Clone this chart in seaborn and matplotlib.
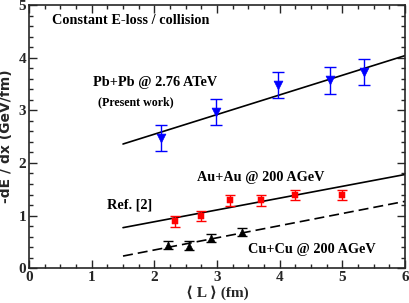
import numpy as np
import pandas as pd
import matplotlib
matplotlib.use("Agg")
import matplotlib.pyplot as plt
import seaborn as sns

# Pb+Pb @ 2.76 ATeV (present work)
pb_L = [2.1, 2.98, 3.98, 4.81, 5.34]
pb_dedx = [2.47, 2.97, 3.48, 3.57, 3.73]
pb_err = [0.25, 0.25, 0.25, 0.25, 0.25]

# Au+Au @ 200 AGeV
au_L = [2.33, 2.75, 3.2, 3.7, 4.24, 4.99]
au_dedx = [0.89, 0.99, 1.29, 1.29, 1.39, 1.39]
au_err = [0.1, 0.1, 0.1, 0.1, 0.1, 0.1]

# Cu+Cu @ 200 AGeV
cu_L = [2.22, 2.55, 2.9, 3.4]
cu_dedx = [0.44, 0.43, 0.57, 0.69]
cu_err = [0.08, 0.08, 0.08, 0.08]

# constant E-loss / collision fits
fit_L = [1.5, 6.0]
pb_fit = [2.36, 4.04]
au_fit = [0.77, 1.78]
cu_fit = [0.23, 1.27]

sns.set_style("ticks")
plt.rcParams['font.family'] = ['Liberation Serif', 'DejaVu Serif']

fig = plt.figure(figsize=(4.09, 3.03), dpi=100)
ax = fig.add_axes([0.071, 0.115, 0.919, 0.868])

fits = pd.DataFrame({"L": fit_L * 3,
                     "dedx": pb_fit + au_fit + cu_fit,
                     "set": ["pb"] * 2 + ["au"] * 2 + ["cu"] * 2})
sns.lineplot(data=fits, x="L", y="dedx", style="set", color="black", lw=1.2,
             dashes={"pb": "", "au": "", "cu": (6, 3)}, legend=False, ax=ax)

ax.errorbar(pb_L, pb_dedx, yerr=pb_err, fmt="none", ecolor="blue", elinewidth=1, capsize=4, capthick=1)
ax.errorbar(au_L, au_dedx, yerr=au_err, fmt="none", ecolor="red", elinewidth=1, capsize=3.5, capthick=1)
ax.errorbar(cu_L, cu_dedx, yerr=cu_err, fmt="none", ecolor="black", elinewidth=1, capsize=3.5, capthick=1)
sns.scatterplot(x=pb_L, y=pb_dedx, marker="v", color="blue", s=40, edgecolor="blue", ax=ax, zorder=3)
sns.scatterplot(x=au_L, y=au_dedx, marker="s", color="red", s=20, edgecolor="red", ax=ax, zorder=3)
sns.scatterplot(x=cu_L, y=cu_dedx, marker="^", color="black", s=26, edgecolor="black", ax=ax, zorder=3)

ax.set_xlim(0, 6)
ax.set_ylim(0, 5)
ax.set_xticks(range(7))
ax.set_yticks(range(6))
ax.set_xticks(np.arange(0, 6.01, 0.25), minor=True)
ax.set_yticks(np.arange(0, 5.01, 0.2), minor=True)
ax.tick_params(which="both", direction="in", top=True, right=True, width=1)
ax.tick_params(which="major", length=6, labelsize=11, pad=2)
ax.tick_params(which="minor", length=3)
for lab in ax.get_xticklabels() + ax.get_yticklabels():
    lab.set_fontweight("bold")
for sp in ax.spines.values():
    sp.set_linewidth(1.2)

ax.set_xlabel("⟨ L ⟩ (fm)", fontsize=11, fontweight="bold", labelpad=1)
ax.set_ylabel("-dE / dx (GeV/fm)", fontsize=10, fontweight="bold",
              family=["DejaVu Sans"], labelpad=4)

bold = dict(fontweight="bold", color="black", va="center")
ax.text(0.37, 4.7, "Constant E-loss / collision", fontsize=10.3, **bold)
ax.text(1.02, 3.53, "Pb+Pb @ 2.76 ATeV", fontsize=10.3, **bold)
ax.text(1.1, 3.16, "(Present work)", fontsize=8.6, **bold)
ax.text(2.68, 1.73, "Au+Au @ 200 AGeV", fontsize=10.3, **bold)
ax.text(1.25, 1.2, "Ref. [2]", fontsize=10.3, **bold)
ax.text(3.5, 0.36, "Cu+Cu @ 200 AGeV", fontsize=10.3, **bold)

fig.savefig("out.png", dpi=100)
